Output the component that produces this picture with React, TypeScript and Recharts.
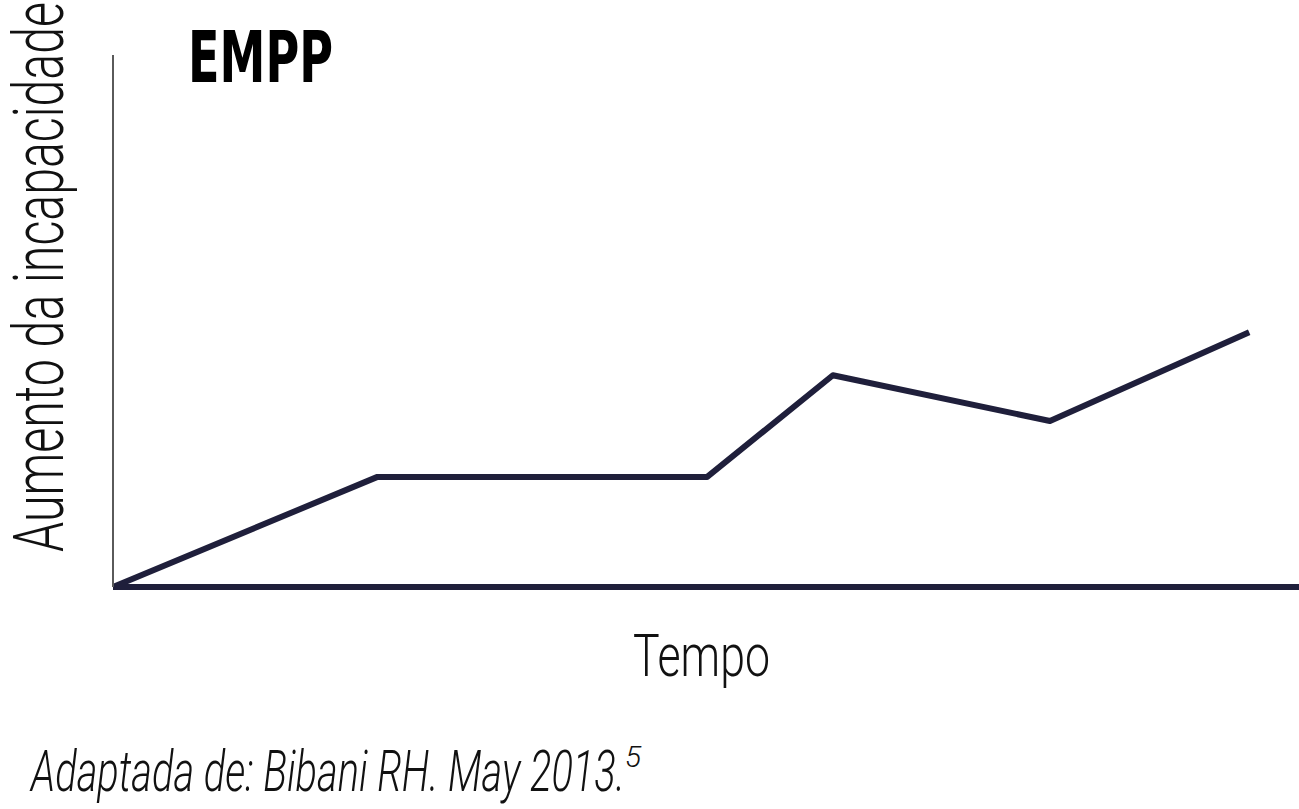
import { LineChart, Line, XAxis, YAxis } from "recharts";

const tempo = [0, 22.3, 50.1, 60.7, 79.0, 95.8];
const incapacidade = [0, 20.7, 20.7, 39.8, 31.2, 47.9];

const data = tempo.map((t, i) => ({ t, v: incapacidade[i] }));

const INK = "#1f1f3b";
const LIGHT = "Roboto, 'Open Sans', 'Liberation Sans Narrow', sans-serif";

export default function App() {
  return (
    <div style={{ position: "absolute", left: 0, top: 0, width: 1299, height: 809, background: "#fff" }}>
      <LineChart
        width={1299}
        height={809}
        data={data}
        margin={{ top: 55, right: 0, left: 112, bottom: 221 }}
      >
        <XAxis
          dataKey="t"
          type="number"
          domain={[0, 100]}
          height={1}
          tick={false}
          tickLine={false}
          axisLine={{ stroke: INK, strokeWidth: 6 }}
        />
        <YAxis
          type="number"
          domain={[0, 100]}
          width={1}
          tick={false}
          tickLine={false}
          axisLine={{ stroke: "#5a5a5a", strokeWidth: 2 }}
        />
        <Line
          dataKey="v"
          type="linear"
          stroke={INK}
          strokeWidth={6}
          dot={false}
          strokeLinejoin="round"
          isAnimationActive={false}
        />
      </LineChart>
      <svg
        width={1299}
        height={809}
        style={{ position: "absolute", left: 0, top: 0, pointerEvents: "none" }}
      >
        <text
          x={188}
          y={82}
          fontFamily="'Liberation Sans Narrow', 'DejaVu Sans Condensed', sans-serif"
          fontWeight={700}
          fontSize={72}
          fill="#000"
          textLength={145}
          lengthAdjust="spacingAndGlyphs"
        >
          EMPP
        </text>
        <text
          transform="translate(63,552) rotate(-90)"
          fontFamily={LIGHT}
          fontWeight={300}
          fontSize={70}
          fill="#111"
          textLength={550}
          lengthAdjust="spacingAndGlyphs"
        >
          Aumento da incapacidade
        </text>
        <text
          x={633}
          y={676}
          fontFamily={LIGHT}
          fontWeight={300}
          fontSize={60}
          fill="#111"
          textLength={137}
          lengthAdjust="spacingAndGlyphs"
        >
          Tempo
        </text>
        <text
          x={31}
          y={791}
          fontFamily={LIGHT}
          fontStyle="italic"
          fontWeight={300}
          fontSize={58}
          fill="#111"
        >
          <tspan textLength={594} lengthAdjust="spacingAndGlyphs">
            Adaptada de: Bibani RH. May 2013.
          </tspan>
          <tspan dy={-24} fontSize={30}>
            5
          </tspan>
        </text>
      </svg>
    </div>
  );
}
